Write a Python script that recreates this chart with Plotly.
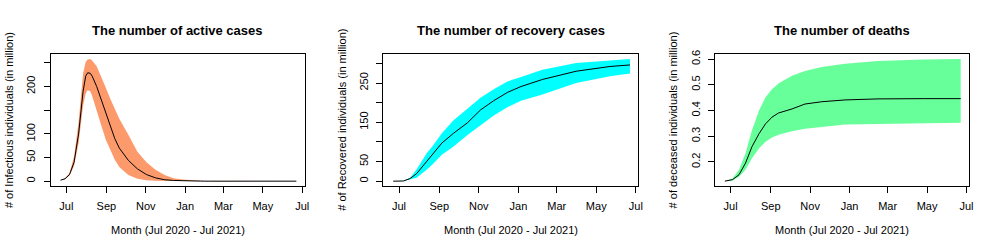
import plotly.graph_objects as go

# ---------------- data ----------------
active_dates = ["2020-06-22", "2020-06-29", "2020-07-06", "2020-07-13", "2020-07-20", "2020-07-27",
                "2020-07-31", "2020-08-03", "2020-08-07", "2020-08-10", "2020-08-17", "2020-08-24",
                "2020-08-31", "2020-09-07", "2020-09-14", "2020-09-21", "2020-10-05", "2020-10-19",
                "2020-11-02", "2020-11-16", "2020-11-30", "2020-12-14", "2020-12-28", "2021-01-11",
                "2021-01-25", "2021-02-08", "2021-06-22"]
active_mean = [2, 5, 14, 40, 100, 190, 222, 229, 228, 222, 200, 172, 143, 115, 90, 70, 44, 26,
               14, 7, 3, 1.5, 0.7, 0.3, 0.1, 0, 0]
active_upper = [2, 6, 17, 52, 125, 228, 252, 257, 258, 255, 243, 222, 198, 174, 152, 132, 98, 62,
                40, 24, 13, 6, 3.5, 2, 0.5, 0, 0]
active_lower = [2, 4, 12, 32, 80, 160, 185, 192, 190, 180, 150, 118, 88, 65, 45, 30, 13, 5,
                2, 0.8, 0.3, 0, 0, 0, 0, 0, 0]

recov_dates = ["2020-06-22", "2020-07-08", "2020-07-18", "2020-07-28", "2020-08-13", "2020-08-23",
               "2020-09-05", "2020-09-23", "2020-10-14", "2020-11-04", "2020-11-24", "2020-12-15",
               "2021-01-05", "2021-02-07", "2021-03-31", "2021-05-22", "2021-06-22"]
recov_mean = [0, 0.5, 6.7, 19, 51, 72, 97, 122, 148, 182, 205, 226, 241, 259, 280, 292, 296]
recov_upper = [0, 0.8, 9, 30, 72, 92, 122, 155, 184, 213, 234, 254, 265, 284, 301, 307, 311]
recov_lower = [0, 0.3, 4, 9, 30, 45, 67, 88, 117, 142, 167, 188, 205, 221, 250, 267, 274]

death_dates = ["2020-06-22", "2020-07-04", "2020-07-14", "2020-07-24", "2020-08-03", "2020-08-14",
               "2020-08-24", "2020-09-03", "2020-09-13", "2020-10-04", "2020-10-24", "2020-11-19",
               "2020-12-25", "2021-02-14", "2021-04-26", "2021-06-22"]
death_mean = [0.125, 0.131, 0.150, 0.195, 0.259, 0.310, 0.348, 0.374, 0.390, 0.406, 0.425, 0.434,
              0.441, 0.445, 0.446, 0.446]
death_upper = [0.125, 0.135, 0.169, 0.233, 0.323, 0.400, 0.451, 0.483, 0.505, 0.535, 0.554, 0.569,
               0.582, 0.592, 0.598, 0.600]
death_lower = [0.125, 0.128, 0.142, 0.169, 0.214, 0.253, 0.278, 0.295, 0.306, 0.319, 0.329, 0.336,
               0.345, 0.347, 0.350, 0.352]

month_ticks = ["2020-07-01", "2020-09-01", "2020-11-01", "2021-01-01", "2021-03-01", "2021-05-01", "2021-07-01"]
month_labels = ["Jul", "Sep", "Nov", "Jan", "Mar", "May", "Jul"]

titles = ["The number of active cases", "The number of recovery cases", "The number of deaths"]
ylabels = ["# of Infectious individuals (in million)", "# of Recovered individuals (in million)",
           "# of deceased individuals (in million)"]
xlabel = "Month (Jul 2020 - Jul 2021)"

y1_ticks = [0, 50, 100, 150, 200, 250]
y1_labels = ["0", "50", "100", "", "200", ""]
y2_ticks = [0, 50, 100, 150, 200, 250, 300]
y2_labels = ["0", "50", "", "150", "", "250", ""]
y3_ticks = [0.2, 0.3, 0.4, 0.5, 0.6]
y3_labels = ["0.2", "0.3", "0.4", "0.5", "0.6"]

band_colors = ["#FC9A6B", "#00FFFF", "#66FF99"]

# ---------------- layout geometry (pixels) ----------------
W, H = 1000, 250
box_x = [(51, 306), (385, 641), (718, 973)]
box_y = (51, 185)
y_ranges = [[-10.3, 268.3], [-12.4, 323.4], [0.106, 0.619]]
x_range = ["2020-06-07", "2021-07-05"]
FONT = "Liberation Sans, Arial, sans-serif"

fig = go.Figure()

panels = [
    (active_dates, active_mean, active_upper, active_lower, y1_ticks, y1_labels),
    (recov_dates, recov_mean, recov_upper, recov_lower, y2_ticks, y2_labels),
    (death_dates, death_mean, death_upper, death_lower, y3_ticks, y3_labels),
]

annotations = []
for i, (d, m, up, lo, yt, yl) in enumerate(panels):
    xa = "x" if i == 0 else f"x{i+1}"
    ya = "y" if i == 0 else f"y{i+1}"
    fig.add_trace(go.Scatter(
        x=d + d[::-1], y=up + lo[::-1], fill="toself", fillcolor=band_colors[i],
        line=dict(width=0), mode="lines", hoverinfo="skip", showlegend=False,
        xaxis=xa, yaxis=ya))
    fig.add_trace(go.Scatter(
        x=d, y=m, mode="lines", line=dict(color="black", width=1),
        showlegend=False, xaxis=xa, yaxis=ya))

    x0, x1 = box_x[i]
    axis_common = dict(showline=True, mirror=True, linecolor="black", linewidth=1,
                       showgrid=False, zeroline=False, ticks="outside", ticklen=6,
                       tickcolor="black", tickfont=dict(family=FONT, size=11, color="black"))
    fig.layout[f"xaxis{'' if i == 0 else i+1}"] = dict(
        domain=[x0 / W, x1 / W], anchor=ya, range=x_range, type="date",
        tickvals=month_ticks, ticktext=month_labels, ticklabelstandoff=4, **axis_common)
    fig.layout[f"yaxis{'' if i == 0 else i+1}"] = dict(
        domain=[1 - box_y[1] / H, 1 - box_y[0] / H], anchor=xa, range=y_ranges[i],
        tickvals=yt, ticktext=yl, tickangle=-90, ticklabelstandoff=4, **axis_common)

    cx = (x0 + x1) / 2 / W
    annotations.append(dict(text=f"<b>{titles[i]}</b>", x=cx, y=1 - 27 / H, xref="paper", yref="paper",
                            xanchor="center", yanchor="middle", showarrow=False,
                            font=dict(family=FONT, size=13, color="black")))
    annotations.append(dict(text=xlabel, x=cx, y=1 - 230 / H, xref="paper", yref="paper",
                            xanchor="center", yanchor="middle", showarrow=False,
                            font=dict(family=FONT, size=11, color="black")))
    annotations.append(dict(text=ylabels[i], x=(x0 - 42) / W, y=1 - 118 / H, xref="paper", yref="paper",
                            xanchor="center", yanchor="middle", showarrow=False, textangle=-90,
                            font=dict(family=FONT, size=11, color="black")))

fig.update_layout(width=W, height=H, margin=dict(l=0, r=0, t=0, b=0),
                  paper_bgcolor="white", plot_bgcolor="white", annotations=annotations)

fig.write_html("out.html", config={"displayModeBar": False},
               post_script="document.body.style.margin='0';document.body.style.overflow='hidden';")
